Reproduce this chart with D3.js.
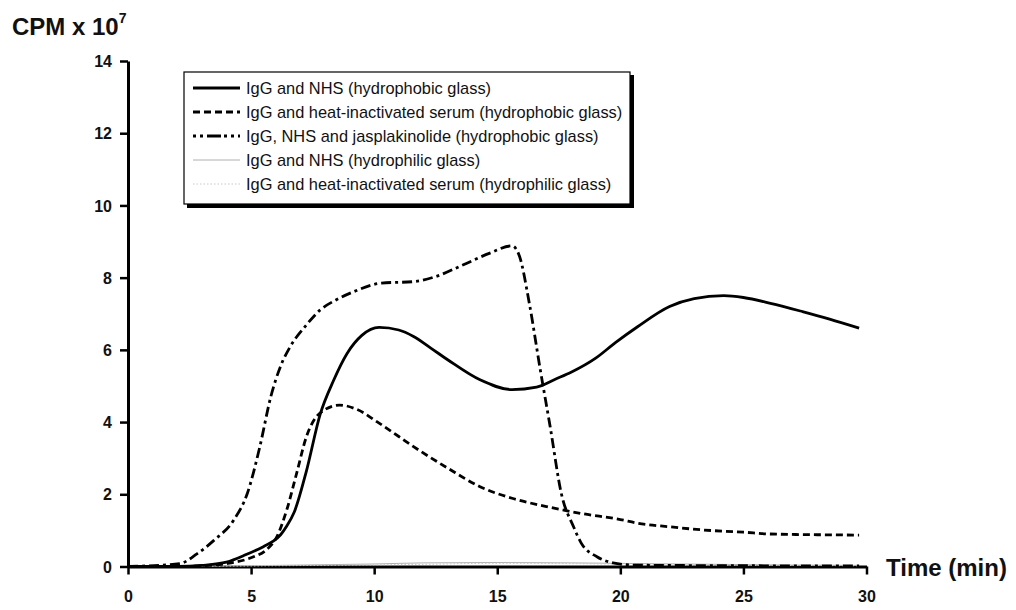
<!DOCTYPE html>
<html>
<head>
<meta charset="utf-8">
<script src="https://cdn.jsdelivr.net/npm/d3@7"></script>
<style>
  body { margin: 0; background: #fff; }
  svg { font-family: "Liberation Sans", Arial, sans-serif; }
</style>
</head>
<body>
<svg width="1016" height="610"></svg>
<script>
// values (time in min, CPM x 10^7)
const nhsPhobic = [
  [0,0],[2,0],[3,0.03],[4,0.12],[4.8,0.33],[5.5,0.55],[5.9,0.7],[6.2,0.88],[6.45,1.12],[6.75,1.5],[7.25,2.65],
  [7.8,4.2],[8.35,5.15],[8.9,5.9],[9.5,6.4],[10.2,6.62],[11,6.55],[11.6,6.37],[12.3,6.05],[13,5.72],
  [14.3,5.17],[15.6,4.9],[16.6,4.97],[17.4,5.2],[18,5.38],[19,5.77],[19.8,6.2],[20.7,6.64],[22,7.2],
  [23,7.42],[24.2,7.5],[25,7.45],[26.1,7.29],[27.4,7.06],[28.5,6.85],[29.7,6.6]
];
const heatPhobic = [
  [0,0],[2,0],[3,0.02],[4,0.08],[5.1,0.27],[5.6,0.45],[6.05,0.83],[6.45,1.57],[6.85,2.58],[7.25,3.6],
  [7.8,4.25],[8.6,4.47],[9.3,4.35],[10.2,3.97],[11,3.6],[11.6,3.32],[13,2.72],[14.3,2.21],[15.6,1.89],
  [17,1.66],[18.4,1.47],[20,1.3],[20.7,1.2],[22,1.1],[23.4,1.01],[25,0.95],[26.1,0.9],[28,0.88],[29.7,0.87]
];
const jaspPhobic = [
  [0,0],[2.1,0.08],[2.8,0.35],[3.5,0.73],[4.3,1.29],[4.85,2.03],[5.35,3.3],[5.8,4.7],[6.2,5.55],[6.6,6.1],
  [7.2,6.65],[7.8,7.1],[8.5,7.4],[9.2,7.62],[10.3,7.85],[11.6,7.89],[12.5,8.03],[13.6,8.35],[14.7,8.68],
  [15.6,8.88],[15.9,8.6],[16.3,7.3],[16.75,5.44],[17.15,3.87],[17.6,2.03],[18.1,1.1],[18.4,0.66],
  [19.05,0.27],[19.7,0.1],[20.5,0.04],[22,0.03],[26,0.02],[29.7,0.02]
];
const nhsPhilic = [
  [0,0],[3,0.01],[6,0.03],[8,0.05],[10,0.07],[12,0.1],[15,0.11],[18,0.1],[21,0.08],[24,0.06],[27,0.04],[29.7,0.03]
];
const heatPhilic = [
  [0,0],[3,0.01],[6,0.02],[9,0.04],[12,0.06],[15,0.09],[18,0.08],[21,0.06],[24,0.04],[27,0.03],[29.7,0.02]
];

const seriesNames = [
  "IgG and NHS (hydrophobic glass)",
  "IgG and heat-inactivated serum (hydrophobic glass)",
  "IgG, NHS and jasplakinolide (hydrophobic glass)",
  "IgG and NHS (hydrophilic glass)",
  "IgG and heat-inactivated serum (hydrophilic glass)"
];
const seriesData = [nhsPhobic, heatPhobic, jaspPhobic, nhsPhilic, heatPhilic];
const styles = [
  {stroke: "#000", width: 2.8, dash: null},
  {stroke: "#000", width: 2.8, dash: "7,4"},
  {stroke: "#000", width: 2.8, dash: "10,4,3,4"},
  {stroke: "#b0b0b0", width: 1, dash: null},
  {stroke: "#c8c8c8", width: 1, dash: "1.5,2"}
];
const xTicks = [0, 5, 10, 15, 20, 25, 30];
const yTicks = [0, 2, 4, 6, 8, 10, 12, 14];

const svg = d3.select("svg"),
      margin = {top: 61, left: 128},
      width = 866.5 - 128,
      height = 566.5 - 61,
      x = d3.scaleLinear().domain([0, 30]).range([0, width]),
      y = d3.scaleLinear().domain([0, 14]).range([height, 0]),
      g = svg.append("g").attr("transform", `translate(${margin.left},${margin.top})`);

// axes
const xAxis = g.append("g")
    .attr("transform", `translate(0,${height})`)
    .call(d3.axisBottom(x).tickValues(xTicks).tickSize(8).tickPadding(16).tickSizeOuter(0));
const yAxis = g.append("g")
    .call(d3.axisLeft(y).tickValues(yTicks).tickSize(8).tickPadding(8).tickSizeOuter(0));

[xAxis, yAxis].forEach(a => {
  a.select(".domain").attr("stroke-width", 3);
  a.selectAll(".tick line").attr("stroke-width", 2.5);
  a.selectAll(".tick text")
      .style("font-family", "Liberation Sans, Arial, sans-serif")
      .style("font-size", "16px")
      .style("font-weight", "bold")
      .attr("fill", "#111");
});
yAxis.selectAll(".tick text").attr("dy", "0.35em");

// lines
const line = d3.line()
    .x(d => x(d[0]))
    .y(d => y(d[1]))
    .curve(d3.curveMonotoneX);

// draw light ones first
[3, 4, 1, 0, 2].forEach(i => {
  g.append("path")
      .datum(seriesData[i])
      .attr("fill", "none")
      .attr("stroke", styles[i].stroke)
      .attr("stroke-width", styles[i].width)
      .attr("stroke-dasharray", styles[i].dash)
      .attr("d", line);
});

// axis titles
const yt = svg.append("text")
    .attr("x", 12).attr("y", 35)
    .style("font-size", "24px").style("font-weight", "bold")
    .attr("fill", "#111")
    .text("CPM x 10");
yt.append("tspan").attr("dy", -12).style("font-size", "14px").text("7");

svg.append("text")
    .attr("x", 886).attr("y", 576)
    .style("font-size", "24px").style("font-weight", "bold")
    .attr("fill", "#111")
    .text("Time (min)");

// legend
const lg = svg.append("g").attr("transform", "translate(184,72)");
lg.append("rect").attr("x", 3).attr("y", 3).attr("width", 447).attr("height", 133).attr("fill", "#000");
lg.append("rect").attr("x", 0).attr("y", 0).attr("width", 446).attr("height", 132)
    .attr("fill", "#fff").attr("stroke", "#000").attr("stroke-width", 1.2);

seriesNames.forEach((name, i) => {
  const yy = 16 + i * 24;
  lg.append("line")
      .attr("x1", 9).attr("x2", 56).attr("y1", yy).attr("y2", yy)
      .attr("stroke", styles[i].stroke)
      .attr("stroke-width", styles[i].width)
      .attr("stroke-dasharray", i === 2 ? "3,4,3,4,14,3" : styles[i].dash);
  lg.append("text")
      .attr("x", 62).attr("y", yy).attr("dy", "0.35em")
      .style("font-size", "16.4px")
      .attr("fill", "#111")
      .text(name);
});
</script>
</body>
</html>
